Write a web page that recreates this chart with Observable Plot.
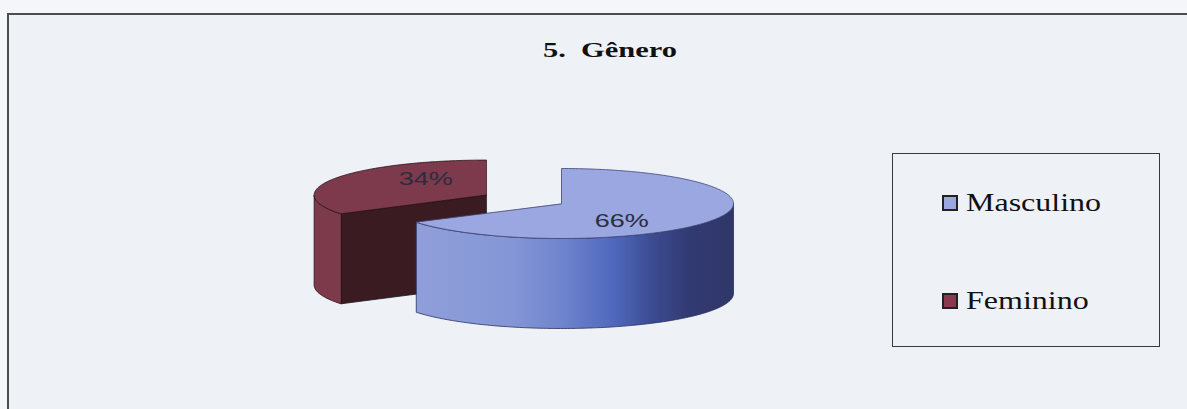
<!DOCTYPE html>
<html>
<head>
<meta charset="utf-8">
<script src="https://cdn.jsdelivr.net/npm/d3@7"></script>
<script src="https://cdn.jsdelivr.net/npm/@observablehq/plot@0.6"></script>
<style>
  html, body { margin: 0; padding: 0; width: 1187px; height: 409px; overflow: hidden; background: #f4f6f9; }
  #wrap { position: relative; width: 1187px; height: 409px; overflow: hidden; }
  #frame { position: absolute; left: 7px; top: 13px; width: 1200px; height: 420px; border: 2px solid #4d4d4d; background: #eef2f7; box-sizing: border-box; }
  #title { position: absolute; left: 0; top: 40px; width: 1220px; text-align: center; font: bold 21px/21px "Liberation Serif", "Times New Roman", serif; color: #111; white-space: pre; transform: scaleX(1.45); transform-origin: 610px 0; }
  #chart { position: absolute; left: 0; top: 0; }
  #legend { position: absolute; left: 892px; top: 153px; width: 268px; height: 194px; border: 1.5px solid #3a3a3a; box-sizing: border-box; }
  .item { position: absolute; left: 49px; height: 25px; }
  .sw { position: absolute; left: 0; top: 2px; width: 16px; height: 16px; border: 2px solid #222; box-sizing: border-box; }
  .lab { position: absolute; left: 24px; top: -3px; font: 25px/25px "Liberation Serif", "Times New Roman", serif; color: #111; white-space: nowrap; transform: scaleX(1.28); transform-origin: 0 0; }
</style>
</head>
<body>
<div id="wrap">
  <div id="frame"></div>
  <div id="title"></div>
  <div id="chart"></div>
  <div id="legend"></div>
</div>
<script>
// ---- data ----
const title = "5.  Gênero";
const categories = ["Masculino", "Feminino"];
const values = [66, 34];
const valueLabels = ["66%", "34%"];

// ---- styles / layout ----
const topColors = {Masculino: "#9aa7e1", Feminino: "#7c3a4c"};
const wallColors = {Masculino: "url(#mascWall)", Feminino: "#7d3a4a"};
const faceColors = {Masculino: "#2f3566", Feminino: "#3b1b22"};
const swatchColors = {Masculino: "#9aa7e0", Feminino: "#8a3a4e"};
const explodeBy = {Masculino: 0, Feminino: 0.5};
const G = {cx: 561, cy: 203, rx: 172, ry: 35, depth: 90, labelKx: 0.4, labelKy: 1.0};

document.getElementById("title").textContent = title;

// legend
const legend = document.getElementById("legend");
categories.forEach((c, i) => {
  const it = document.createElement("div");
  it.className = "item";
  it.style.top = (39 + i * 98) + "px";
  it.innerHTML = `<div class="sw" style="background:${swatchColors[c]}"></div><div class="lab">${c}</div>`;
  legend.appendChild(it);
});

// ---- geometry from values ----
const total = d3.sum(values);
const TAU = Math.PI * 2;
let acc = 0;
const slices = categories.map((c, i) => {
  const a0 = acc / total * TAU;
  acc += values[i];
  const a1 = acc / total * TAU;
  const m = (a0 + a1) / 2;
  const e = explodeBy[c];
  const center = {x: G.cx + e * G.rx * Math.sin(m), y: G.cy - e * G.ry * Math.cos(m)};
  return {name: c, value: values[i], label: valueLabels[i], a0, a1, m, center};
});

const P = (c, a, dz = 0) => ({x: c.x + G.rx * Math.sin(a), y: c.y - G.ry * Math.cos(a) + dz});
function arc(c, a0, a1, dz) {
  const n = Math.max(2, Math.ceil((a1 - a0) / 0.02));
  return d3.range(n + 1).map(k => P(c, a0 + (a1 - a0) * k / n, dz));
}

// painter order: back slices first
const order = slices.slice().sort((s, t) => (-Math.cos(s.m)) - (-Math.cos(t.m)));
const polys = [];
for (const s of order) {
  const c = s.center;
  const faces = [];
  if (Math.cos(s.a0 - Math.PI / 2) < -1e-6) faces.push(s.a0);
  if (Math.cos(s.a1 + Math.PI / 2) < -1e-6) faces.push(s.a1);
  for (const a of faces) {
    const e = P(c, a);
    polys.push({fill: faceColors[s.name], stroke: "#1c1016", pts: [
      {x: c.x, y: c.y}, e, {x: e.x, y: e.y + G.depth}, {x: c.x, y: c.y + G.depth}
    ]});
  }
  const w0 = Math.max(s.a0, Math.PI / 2), w1 = Math.min(s.a1, 3 * Math.PI / 2);
  if (w1 > w0) {
    const topArc = arc(c, w0, w1, 0);
    const botArc = arc(c, w0, w1, G.depth).reverse();
    polys.push({fill: wallColors[s.name], stroke: s.name === "Masculino" ? "#2a3060" : "#2a1118", pts: topArc.concat(botArc)});
  }
  polys.push({fill: topColors[s.name], stroke: s.name === "Masculino" ? "#3d4575" : "#2a1118",
    pts: [{x: c.x, y: c.y}].concat(arc(c, s.a0, s.a1, 0))});
}

const labelData = slices.map(s => ({
  text: s.label,
  x: s.center.x + G.labelKx * G.rx * Math.sin(s.m),
  y: s.center.y - G.labelKy * G.ry * Math.cos(s.m)
}));

const svg = Plot.plot({
  width: 1187,
  height: 409,
  margin: 0,
  x: {domain: [0, 1187], range: [0, 1187], axis: null},
  y: {domain: [0, 409], range: [0, 409], axis: null},
  style: {background: "transparent", overflow: "visible"},
  marks: [
    ...polys.map(p => Plot.line(p.pts, {x: "x", y: "y", fill: p.fill, stroke: p.stroke, strokeWidth: 0.8, curve: "linear-closed"})),
    Plot.text(labelData, {x: "x", y: "y", text: "text", dy: 7, fontSize: 18, fontFamily: "Liberation Sans, Arial, sans-serif", fill: "#2b2d3c"})
  ]
});

// gradient for the blue wall
const defs = d3.select(svg).insert("defs", ":first-child");
const g = defs.append("linearGradient").attr("id", "mascWall").attr("x1", 0).attr("x2", 1).attr("y1", 0).attr("y2", 0);
[[0, "#909fda"], [0.3, "#8496d6"], [0.46, "#7084cd"], [0.62, "#5069bd"], [0.74, "#3c4c92"], [0.86, "#323a72"], [1, "#2f3668"]]
  .forEach(([o, col]) => g.append("stop").attr("offset", o).attr("stop-color", col));

// widen label text like the reference (positions through the plot's own scales)
const sx = svg.scale("x"), sy = svg.scale("y");
d3.select(svg).selectAll("g[aria-label='text'] text").each(function (_, i) {
  const d = labelData[i];
  if (!d) return;
  this.removeAttribute("x");
  this.removeAttribute("y");
  this.setAttribute("transform", `translate(${sx.apply(d.x)},${sy.apply(d.y)}) scale(1.5,1)`);
});

document.getElementById("chart").appendChild(svg);
</script>
</body>
</html>
